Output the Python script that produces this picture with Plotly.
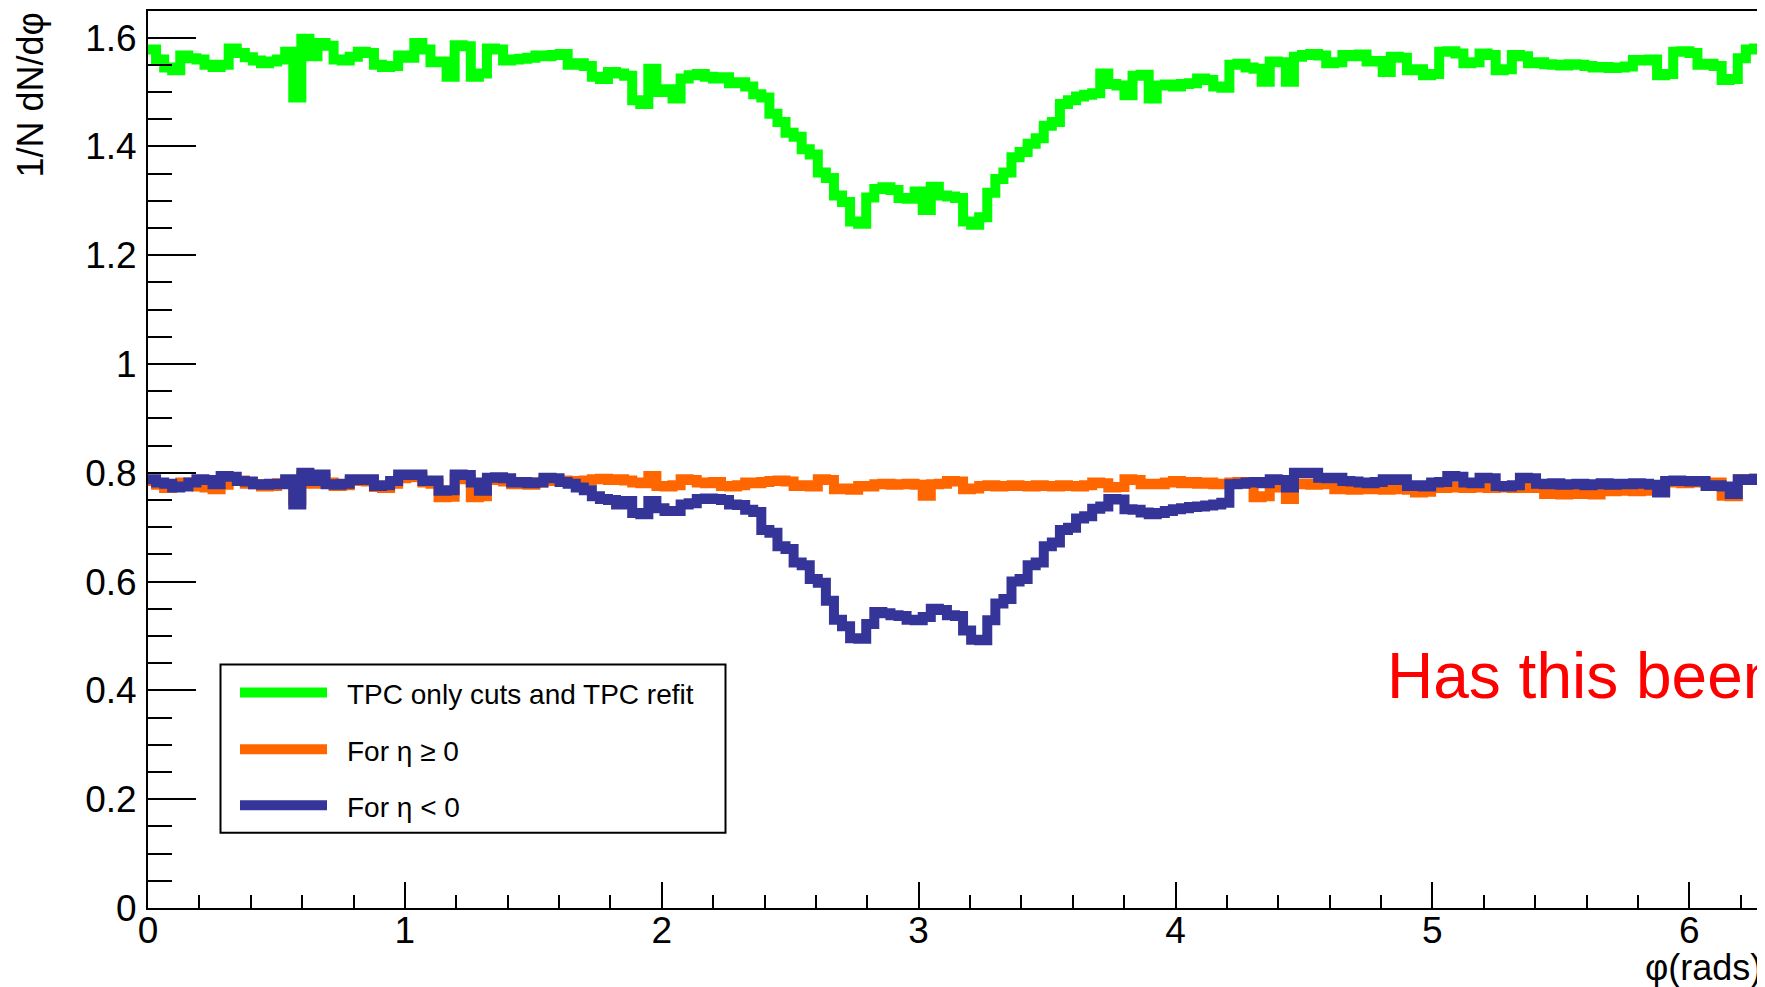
import math
import numpy as np
import plotly.graph_objects as go

# ---------------- data (bin contents, 200 bins over [0, 2pi]) ----------------
N_BINS = 200
PHI_MAX = 2 * math.pi

green_all = [
    1.578, 1.56, 1.545, 1.54, 1.567, 1.562, 1.56, 1.55, 1.546, 1.55,
    1.58, 1.572, 1.564, 1.558, 1.553, 1.556, 1.56, 1.574, 1.49, 1.598,
    1.566, 1.59, 1.585, 1.56, 1.558, 1.565, 1.574, 1.572, 1.55, 1.546,
    1.548, 1.567, 1.563, 1.59, 1.578, 1.555, 1.556, 1.528, 1.586, 1.584,
    1.528, 1.534, 1.58, 1.578, 1.558, 1.56, 1.561, 1.563, 1.567, 1.566,
    1.568, 1.57, 1.55, 1.553, 1.548, 1.528, 1.524, 1.537, 1.534, 1.53,
    1.485, 1.478, 1.543, 1.50, 1.505, 1.488, 1.525, 1.531, 1.533, 1.528,
    1.525, 1.527, 1.516, 1.518, 1.51, 1.496, 1.49, 1.46, 1.445, 1.425,
    1.418, 1.395, 1.385, 1.352, 1.342, 1.31, 1.298, 1.262, 1.258, 1.306,
    1.322, 1.325, 1.32, 1.305, 1.304, 1.317, 1.283, 1.326, 1.31, 1.308,
    1.305, 1.262, 1.256, 1.27, 1.315, 1.34, 1.352, 1.38, 1.39, 1.405,
    1.415, 1.438, 1.445, 1.478, 1.485, 1.492, 1.495, 1.498, 1.534, 1.515,
    1.512, 1.494, 1.53, 1.532, 1.488, 1.512, 1.514, 1.51, 1.515, 1.516,
    1.525, 1.522, 1.51, 1.508, 1.55, 1.552, 1.545, 1.543, 1.519, 1.556,
    1.555, 1.519, 1.565, 1.568, 1.57, 1.567, 1.553, 1.555, 1.568, 1.566,
    1.569, 1.556, 1.557, 1.537, 1.565, 1.563, 1.54, 1.542, 1.531, 1.533,
    1.574, 1.575, 1.571, 1.553, 1.555, 1.571, 1.568, 1.54, 1.542, 1.568,
    1.566, 1.553, 1.555, 1.551, 1.55, 1.549, 1.551, 1.55, 1.548, 1.545,
    1.546, 1.544, 1.545, 1.547, 1.559, 1.558, 1.56, 1.531, 1.533, 1.574,
    1.575, 1.572, 1.55, 1.552, 1.548, 1.522, 1.524, 1.562, 1.578, 1.58,
]

orange_eta_pos = [
    0.785, 0.778, 0.772, 0.775, 0.782, 0.78, 0.775, 0.773, 0.77, 0.778,
    0.786, 0.786, 0.78, 0.779, 0.775, 0.776, 0.781, 0.786, 0.75, 0.795,
    0.78, 0.79, 0.782, 0.776, 0.777, 0.785, 0.786, 0.784, 0.774, 0.772,
    0.78, 0.79, 0.792, 0.793, 0.782, 0.78, 0.755, 0.756, 0.79, 0.788,
    0.755, 0.757, 0.787, 0.788, 0.784, 0.779, 0.78, 0.778, 0.782, 0.786,
    0.785, 0.786, 0.784, 0.785, 0.786, 0.788, 0.789, 0.787, 0.788, 0.786,
    0.782, 0.781, 0.794, 0.776, 0.775, 0.777, 0.788, 0.787, 0.782, 0.781,
    0.783, 0.776, 0.775, 0.777, 0.782, 0.781, 0.783, 0.785, 0.786, 0.784,
    0.776, 0.777, 0.775, 0.788, 0.787, 0.77, 0.771, 0.769, 0.776, 0.775,
    0.779, 0.78, 0.778, 0.779, 0.78, 0.778, 0.758, 0.779, 0.78, 0.785,
    0.784, 0.77, 0.771, 0.776, 0.777, 0.775, 0.776, 0.777, 0.776, 0.775,
    0.777, 0.776, 0.775, 0.777, 0.776, 0.775, 0.777, 0.782, 0.781, 0.773,
    0.774, 0.788, 0.787, 0.779, 0.78, 0.779, 0.782, 0.785, 0.781, 0.783,
    0.78, 0.782, 0.779, 0.78, 0.782, 0.783, 0.781, 0.755, 0.757, 0.773,
    0.774, 0.752, 0.779, 0.78, 0.778, 0.779, 0.78, 0.77, 0.771, 0.769,
    0.77, 0.771, 0.77, 0.769, 0.771, 0.77, 0.769, 0.764, 0.765, 0.773,
    0.772, 0.774, 0.773, 0.772, 0.774, 0.773, 0.772, 0.773, 0.774, 0.772,
    0.773, 0.772, 0.774, 0.761, 0.762, 0.76, 0.761, 0.762, 0.761, 0.76,
    0.767, 0.766, 0.768, 0.767, 0.766, 0.768, 0.767, 0.766, 0.782, 0.783,
    0.781, 0.782, 0.783, 0.781, 0.782, 0.758, 0.757, 0.788, 0.787, 0.789,
]

blue_eta_neg = [
    0.788, 0.782, 0.78, 0.773, 0.775, 0.782, 0.788, 0.787, 0.779, 0.794,
    0.793, 0.785, 0.784, 0.779, 0.778, 0.78, 0.779, 0.788, 0.742, 0.80,
    0.785, 0.797, 0.779, 0.778, 0.78, 0.788, 0.787, 0.788, 0.776, 0.777,
    0.785, 0.797, 0.796, 0.797, 0.785, 0.786, 0.767, 0.768, 0.797, 0.796,
    0.782, 0.767, 0.791, 0.792, 0.79, 0.782, 0.783, 0.781, 0.782, 0.791,
    0.79, 0.783, 0.78, 0.773, 0.768, 0.757, 0.752, 0.75, 0.742, 0.748,
    0.726, 0.724, 0.748, 0.735, 0.73, 0.73, 0.742, 0.744, 0.752, 0.753,
    0.752, 0.75, 0.742, 0.741, 0.732, 0.728, 0.695, 0.69, 0.665, 0.66,
    0.635, 0.63, 0.605, 0.598, 0.565, 0.53, 0.518, 0.496, 0.495, 0.522,
    0.544, 0.542, 0.538, 0.537, 0.53, 0.529, 0.535, 0.55, 0.548, 0.538,
    0.537, 0.51, 0.493, 0.492, 0.529, 0.56, 0.568, 0.6, 0.605, 0.63,
    0.635, 0.665, 0.672, 0.695, 0.699, 0.716, 0.72, 0.734, 0.738, 0.752,
    0.751, 0.733, 0.732, 0.727, 0.724, 0.726, 0.73, 0.733, 0.735, 0.737,
    0.738, 0.74, 0.742, 0.745, 0.779, 0.78, 0.782, 0.783, 0.781, 0.788,
    0.787, 0.773, 0.80, 0.799, 0.80, 0.791, 0.79, 0.791, 0.785, 0.784,
    0.782, 0.781, 0.783, 0.788, 0.787, 0.788, 0.776, 0.777, 0.775, 0.782,
    0.783, 0.794, 0.793, 0.782, 0.781, 0.791, 0.79, 0.776, 0.775, 0.777,
    0.791, 0.79, 0.78, 0.779, 0.781, 0.778, 0.779, 0.78, 0.777, 0.779,
    0.781, 0.778, 0.78, 0.779, 0.781, 0.78, 0.778, 0.764, 0.785, 0.786,
    0.785, 0.784, 0.785, 0.776, 0.777, 0.775, 0.761, 0.788, 0.787, 0.789,
]

series_names = ["TPC only cuts and TPC refit", "For \u03b7 \u2265 0", "For \u03b7 < 0"]
series_values = [green_all, orange_eta_pos, blue_eta_neg]
series_colors = ["#00FF00", "#FF6600", "#343499"]

x_title = "\u03c6(rads)"
y_title = "1/N dN/d\u03c6"
note_text = "Has this been"

# ---------------- layout geometry ----------------
# The page body has an 8px default margin, so the figure is drawn 8px right/down.
OFF = 8
W, H = 1765 - OFF, 987 - OFF
ML, MR, MT, MB = 140, 3, 1, 79
PW, PH = W - ML - MR, H - MT - MB
Y_MAX = 1.649
FONT = "Liberation Sans, Arial, Helvetica, sans-serif"


def px_x(sx):
    """screen x (px) -> paper x"""
    return (sx - OFF - ML) / PW


def px_y(sy):
    """screen y (px) -> paper y"""
    return (H - MB - (sy - OFF)) / PH


edges = np.linspace(0.0, PHI_MAX, N_BINS + 1)

fig = go.Figure()
for name, vals, col in zip(series_names, series_values, series_colors):
    fig.add_trace(go.Scatter(
        x=edges, y=list(vals) + [vals[-1]], mode="lines", name=name,
        line=dict(shape="hv", width=10, color=col), showlegend=False,
        hoverinfo="skip",
    ))

# ---------------- manual ROOT-style legend ----------------
shapes = [dict(type="rect", xref="paper", yref="paper",
               x0=px_x(220.5), x1=px_x(725.5), y0=px_y(832.5), y1=px_y(664),
               line=dict(color="black", width=2), fillcolor="white", layer="above")]
annotations = []
legend_rows = [692, 749, 805]
for name, col, ry in zip(series_names, series_colors, legend_rows):
    shapes.append(dict(type="line", xref="paper", yref="paper",
                       x0=px_x(240), x1=px_x(327), y0=px_y(ry), y1=px_y(ry),
                       line=dict(color=col, width=10), layer="above"))
    annotations.append(dict(text=name, xref="paper", yref="paper",
                            x=px_x(345), y=px_y(ry + 2), xanchor="left", yanchor="middle",
                            showarrow=False, font=dict(family=FONT, size=28, color="black")))

annotations.append(dict(text=y_title, xref="paper", yref="paper", x=px_x(30), y=1.0,
                        xanchor="center", yanchor="top", textangle=-90, showarrow=False,
                        font=dict(family=FONT, size=36, color="black")))
annotations.append(dict(text=x_title, xref="paper", yref="paper", x=px_x(1764), y=px_y(968),
                        xanchor="right", yanchor="middle", showarrow=False,
                        font=dict(family=FONT, size=36, color="black")))
annotations.append(dict(text=note_text, xref="paper", yref="paper", x=px_x(1385), y=px_y(675),
                        xanchor="left", yanchor="middle", showarrow=False,
                        font=dict(family=FONT, size=64, color="#FF0000")))

fig.update_layout(
    width=W, height=H,
    margin=dict(l=ML, r=MR, t=MT, b=MB, pad=0),
    paper_bgcolor="white", plot_bgcolor="white",
    showlegend=False,
    shapes=shapes, annotations=annotations,
    font=dict(family=FONT, color="black"),
)
fig.update_xaxes(
    range=[0, PHI_MAX], tickmode="linear", tick0=0, dtick=1,
    ticks="inside", ticklen=26, tickwidth=2, tickcolor="black",
    showline=True, linecolor="black", linewidth=2, mirror=True,
    showgrid=False, zeroline=False, ticklabelstandoff=-11,
    tickfont=dict(family=FONT, size=37, color="black"),
    minor=dict(ticks="inside", ticklen=13, tickwidth=2, tickcolor="black",
               tick0=0, dtick=0.2, showgrid=False),
)
fig.update_yaxes(
    range=[0, Y_MAX], tickmode="linear", tick0=0, dtick=0.2,
    ticks="inside", ticklen=48, tickwidth=2, tickcolor="black",
    showline=True, linecolor="black", linewidth=2, mirror=True,
    showgrid=False, zeroline=False, ticklabelstandoff=2,
    tickformat="~g",
    tickfont=dict(family=FONT, size=37, color="black"),
    minor=dict(ticks="inside", ticklen=24, tickwidth=2, tickcolor="black",
               tick0=0, dtick=0.05, showgrid=False),
)

fig.write_html("out.html")
